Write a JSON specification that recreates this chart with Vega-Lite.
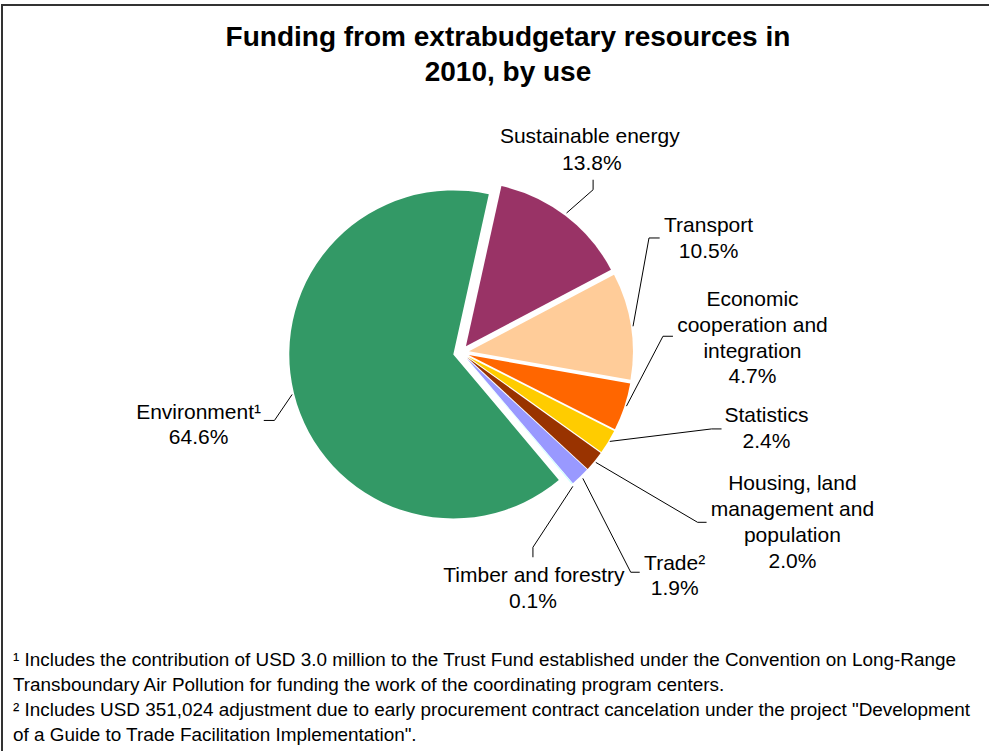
{
  "$schema": "https://vega.github.io/schema/vega-lite/v6.json",
  "width": 990,
  "height": 752,
  "autosize": {"type": "fit", "contains": "padding"},
  "padding": 0,
  "background": "white",
  "config": {"view": {"stroke": null}, "font": "Liberation Sans"},
  "datasets": {
    "slices": [
      {"rank": 1, "category": "Sustainable energy", "share": 0.138, "name": "Sustainable energy", "nx": 590, "ny": 143, "px": 592, "py": 170},
      {"rank": 2, "category": "Transport", "share": 0.105, "name": "Transport", "nx": 709, "ny": 232, "px": 709, "py": 258},
      {"rank": 3, "category": "Economic cooperation and integration", "share": 0.047, "name": "Economic\ncooperation and\nintegration", "nx": 753, "ny": 306, "px": 753, "py": 384},
      {"rank": 4, "category": "Statistics", "share": 0.024, "name": "Statistics", "nx": 767, "ny": 423, "px": 767, "py": 449},
      {"rank": 5, "category": "Housing, land management and population", "share": 0.020, "name": "Housing, land\nmanagement and\npopulation", "nx": 793, "ny": 491, "px": 793, "py": 569},
      {"rank": 6, "category": "Trade", "share": 0.019, "name": "Trade²", "nx": 675, "ny": 571, "px": 675, "py": 596},
      {"rank": 7, "category": "Timber and forestry", "share": 0.001, "name": "Timber and forestry", "nx": 534, "ny": 583, "px": 533, "py": 609},
      {"rank": 8, "category": "Environment", "share": 0.646, "name": "Environment¹", "nx": 198, "ny": 420, "px": 198, "py": 445}
    ],
    "leaders": [
      {"category": "Sustainable energy", "seq": 1, "x": 566.7, "y": 213.3},
      {"category": "Sustainable energy", "seq": 2, "x": 593.3, "y": 190},
      {"category": "Sustainable energy", "seq": 3, "x": 593.3, "y": 180},
      {"category": "Transport", "seq": 1, "x": 633.3, "y": 326.7},
      {"category": "Transport", "seq": 2, "x": 649.3, "y": 238.3},
      {"category": "Transport", "seq": 3, "x": 660, "y": 238.3},
      {"category": "Economic cooperation and integration", "seq": 1, "x": 626.7, "y": 406.7},
      {"category": "Economic cooperation and integration", "seq": 2, "x": 663.3, "y": 336.7},
      {"category": "Economic cooperation and integration", "seq": 3, "x": 673.3, "y": 336.7},
      {"category": "Statistics", "seq": 1, "x": 610, "y": 442},
      {"category": "Statistics", "seq": 2, "x": 712, "y": 429.5},
      {"category": "Statistics", "seq": 3, "x": 722, "y": 429.5},
      {"category": "Housing, land management and population", "seq": 1, "x": 596, "y": 463},
      {"category": "Housing, land management and population", "seq": 2, "x": 698, "y": 523},
      {"category": "Housing, land management and population", "seq": 3, "x": 707, "y": 523},
      {"category": "Trade", "seq": 1, "x": 583, "y": 479},
      {"category": "Trade", "seq": 2, "x": 631, "y": 573},
      {"category": "Trade", "seq": 3, "x": 640, "y": 573},
      {"category": "Timber and forestry", "seq": 1, "x": 573, "y": 487},
      {"category": "Timber and forestry", "seq": 2, "x": 533, "y": 548},
      {"category": "Timber and forestry", "seq": 3, "x": 533, "y": 558},
      {"category": "Environment", "seq": 1, "x": 291.7, "y": 395},
      {"category": "Environment", "seq": 2, "x": 274, "y": 421},
      {"category": "Environment", "seq": 3, "x": 263.3, "y": 421}
    ]
  },
  "layer": [
    {
      "data": {"values": [{"edge": "top"}]},
      "mark": {"type": "rule", "color": "#333333", "strokeWidth": 2},
      "encoding": {
        "y": {"datum": 5, "type": "quantitative", "scale": {"domain": [0, 752], "nice": false, "zero": false, "reverse": true}, "axis": null}
      }
    },
    {
      "data": {"values": [{"edge": "left"}]},
      "mark": {"type": "rule", "color": "#333333", "strokeWidth": 2},
      "encoding": {
        "x": {"datum": 1, "type": "quantitative", "scale": {"domain": [0, 990], "nice": false, "zero": false}, "axis": null},
        "y": {"datum": 5, "type": "quantitative", "scale": {"domain": [0, 752], "nice": false, "zero": false, "reverse": true}, "axis": null},
        "y2": {"datum": 752}
      }
    },
    {
      "data": {"name": "slices"},
      "mark": {
        "type": "arc",
        "radius": 164,
        "xOffset": {"expr": "8*sin(0.2182+PI*(datum.share_start+datum.share_end))"},
        "yOffset": {"expr": "-8*cos(0.2182+PI*(datum.share_start+datum.share_end))"}
      },
      "encoding": {
        "x": {"datum": 461, "type": "quantitative", "scale": {"domain": [0, 990], "nice": false, "zero": false}, "axis": null},
        "y": {"datum": 353, "type": "quantitative", "scale": {"domain": [0, 752], "nice": false, "zero": false, "reverse": true}, "axis": null},
        "theta": {"field": "share", "type": "quantitative", "stack": true, "scale": {"range": [0.2182, 6.5014]}},
        "order": {"field": "rank", "type": "quantitative"},
        "color": {
          "field": "category",
          "type": "nominal",
          "scale": {
            "domain": ["Sustainable energy", "Transport", "Economic cooperation and integration", "Statistics", "Housing, land management and population", "Trade", "Timber and forestry", "Environment"],
            "range": ["#993366", "#FFCC99", "#FF6600", "#FFCC00", "#993300", "#9999FF", "#CCFFFF", "#339966"]
          },
          "legend": null
        }
      }
    },
    {
      "data": {"name": "leaders"},
      "mark": {"type": "line", "color": "#000000", "strokeWidth": 1},
      "encoding": {
        "x": {"field": "x", "type": "quantitative", "scale": {"domain": [0, 990], "nice": false, "zero": false}, "axis": null},
        "y": {"field": "y", "type": "quantitative", "scale": {"domain": [0, 752], "nice": false, "zero": false, "reverse": true}, "axis": null},
        "detail": {"field": "category", "type": "nominal"},
        "order": {"field": "seq", "type": "quantitative"}
      }
    },
    {
      "data": {"name": "slices"},
      "mark": {"type": "text", "fontSize": 21, "align": "center", "baseline": "alphabetic", "lineBreak": "\n", "lineHeight": 26, "color": "#000000"},
      "encoding": {
        "x": {"field": "nx", "type": "quantitative", "scale": {"domain": [0, 990], "nice": false, "zero": false}, "axis": null},
        "y": {"field": "ny", "type": "quantitative", "scale": {"domain": [0, 752], "nice": false, "zero": false, "reverse": true}, "axis": null},
        "text": {"field": "name", "type": "nominal"}
      }
    },
    {
      "data": {"name": "slices"},
      "mark": {"type": "text", "fontSize": 21, "align": "center", "baseline": "alphabetic", "color": "#000000"},
      "encoding": {
        "x": {"field": "px", "type": "quantitative", "scale": {"domain": [0, 990], "nice": false, "zero": false}, "axis": null},
        "y": {"field": "py", "type": "quantitative", "scale": {"domain": [0, 752], "nice": false, "zero": false, "reverse": true}, "axis": null},
        "text": {"field": "share", "type": "quantitative", "format": ".1%"}
      }
    },
    {
      "data": {"values": [{"title": "Funding from extrabudgetary resources in\n2010, by use"}]},
      "mark": {"type": "text", "fontSize": 28, "fontWeight": "bold", "align": "center", "baseline": "alphabetic", "lineBreak": "\n", "lineHeight": 35, "color": "#000000"},
      "encoding": {
        "x": {"datum": 508, "type": "quantitative", "scale": {"domain": [0, 990], "nice": false, "zero": false}, "axis": null},
        "y": {"datum": 46, "type": "quantitative", "scale": {"domain": [0, 752], "nice": false, "zero": false, "reverse": true}, "axis": null},
        "text": {"field": "title", "type": "nominal"}
      }
    },
    {
      "data": {"values": [{"note": "¹ Includes the contribution of USD 3.0 million to the Trust Fund established under the Convention on Long-Range\nTransboundary Air Pollution for funding the work of the coordinating program centers.\n² Includes USD 351,024 adjustment due to early procurement contract cancelation under the project \"Development\nof a Guide to Trade Facilitation Implementation\"."}]},
      "mark": {"type": "text", "fontSize": 18.9, "align": "left", "baseline": "alphabetic", "lineBreak": "\n", "lineHeight": 25, "color": "#000000"},
      "encoding": {
        "x": {"datum": 12, "type": "quantitative", "scale": {"domain": [0, 990], "nice": false, "zero": false}, "axis": null},
        "y": {"datum": 667, "type": "quantitative", "scale": {"domain": [0, 752], "nice": false, "zero": false, "reverse": true}, "axis": null},
        "text": {"field": "note", "type": "nominal"}
      }
    }
  ]
}
